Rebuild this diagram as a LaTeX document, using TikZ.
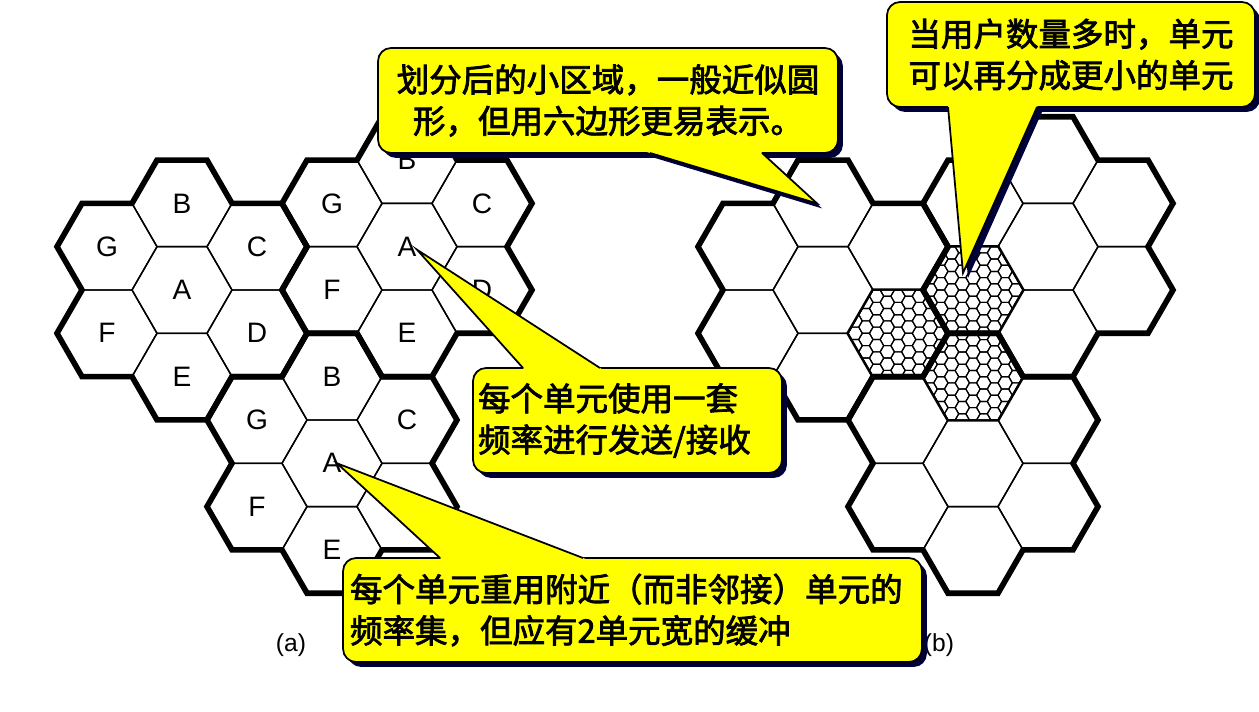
\documentclass[tikz,border=0pt]{standalone}
\usepackage{fontspec}
\setmainfont{Liberation Sans}
\newfontfamily\cjk[FakeBold=2.4]{Noto Sans CJK SC}
\usepackage{tikz}
\usetikzlibrary{shapes.geometric, calc, shadows}

\definecolor{noteyellow}{RGB}{255,255,0}
\definecolor{noteshade}{RGB}{0,0,56}

\pgfdeclarelayer{back}
\pgfdeclarelayer{shade}
\pgfsetlayers{back,shade,main}

\begin{document}
\begin{tikzpicture}[
    x=0.02cm, y=-0.02cm,
    cell/.style={draw, regular polygon, regular polygon sides=6, minimum size=2cm, inner sep=0pt, line width=0.8pt, font=\fontsize{16}{16}\selectfont},
    rim/.style={line width=3.2pt},
    fine/.style={line width=0.65pt},
    note/.style={draw, line width=1pt, fill=noteyellow, rounded corners=0.26cm, inner sep=0pt, outer sep=0pt, minimum height=2.1cm, font=\cjk\fontsize{18.5}{23.5}\selectfont, drop shadow={shadow xshift=2.8pt, shadow yshift=-2.8pt, fill=noteshade, opacity=1}},
    tailfill/.style={fill=noteyellow},
    tailline/.style={line width=1pt, line join=miter},
    tailshade/.style={fill=noteshade},
    caption/.style={font=\fontsize{14}{14}\selectfont}
]
\useasboundingbox (0,0) rectangle (1259,712);

\begin{pgfonlayer}{back}
% (a) three groups of seven cells
\foreach \g/\x/\y in {a1/182/290, a2/407/246.7, a3/332/463.3} {
    \node[cell] (\g A) at (\x,\y) {A};
    \foreach \l/\ang in {B/270, C/330, D/30, E/90, F/150, G/210}
        \node[cell] (\g\l) at ($(\g A)+(\ang:86.6)$) {\l};
}

% (b) same groups, no letters
\foreach \g/\x/\y in {b1/823/290, b2/973/463.3, b3/1048/246.7} {
    \node[cell] (\g A) at (\x,\y) {};
    \foreach \l/\ang in {B/270, C/330, D/30, E/90, F/150, G/210}
        \node[cell] (\g\l) at ($(\g A)+(\ang:86.6)$) {};
}

% split cells
\foreach \h in {b1D, b3F, b2B} {
    \begin{scope}
        \clip (\h.corner 1) \foreach \k in {2,...,6} { -- (\h.corner \k) } -- cycle;
        \begin{scope}[shift={(\h.center)}]
            \foreach \i in {-5,...,5}
                \foreach \j in {-6,...,6}
                    \draw[fine, shift={({10.714*\i},{12.372*(\j+0.5*\i)})}] (0:7.14) -- (60:7.14) -- (120:7.14) -- (180:7.14) -- (240:7.14) -- (300:7.14) -- cycle;
        \end{scope}
    \end{scope}
    \draw[line width=1.1pt] (\h.corner 1) \foreach \k in {2,...,6} { -- (\h.corner \k) } -- cycle;
}

% thick outline of each group
\foreach \g in {a1, a2, a3, b1, b2, b3}
    \draw[rim] (\g A.center) ++(100,0) \foreach \dir in {60,120,180,120,180,240,180,240,300,240,300,0,300,0,60,0,60,120} { -- ++(\dir:50) } -- cycle;
\end{pgfonlayer}

% captions
\node[caption] (capa) at (291,645) {(a)};
\node[caption] (capb) at (939,645) {(b)};

% callouts
\node[note, minimum width=9.2cm, align=center] (notecell) at (608,100.5) {划分后的小区域，一般近似圆\\形，但用六边形更易表示。};
\node[note, minimum width=7.36cm, align=center] (notesplit) at (1071,54.5) {当用户数量多时，单元\\可以再分成更小的单元};
\node[note, text width=5.98cm, inner xsep=0.1cm, align=left] (noteuse) at (627.5,420.5) {每个单元使用一套\\频率进行发送/接收};
\node[note, text width=11.3cm, inner xsep=0.14cm, minimum height=2.08cm, align=left] (notereuse) at (632.5,610) {每个单元重用附近（而非邻接）单元的\\频率集，但应有2单元宽的缓冲};

% pointers
\coordinate (t1a) at ($(notecell.south west)+(272,0)$);
\coordinate (t1b) at ($(notecell.south west)+(384,0)$);
\coordinate (t1c) at ($(b1B.center)+(-6,0)$);
\coordinate (t2a) at ($(notesplit.south west)+(61,0)$);
\coordinate (t2b) at ($(notesplit.south west)+(150,0)$);
\coordinate (t2c) at ($(b3F.center)+(-10,-17)$);
\coordinate (t3a) at ($(noteuse.north west)+(50,0)$);
\coordinate (t3b) at ($(noteuse.north west)+(127,0)$);
\coordinate (t3c) at ($(a2A.center)+(10,3)$);
\coordinate (t4a) at ($(notereuse.north west)+(97,0)$);
\coordinate (t4b) at ($(notereuse.north west)+(240,0)$);
\coordinate (t4c) at ($(a3A.center)+(5,0)$);

\begin{pgfonlayer}{shade}
\foreach \tl in {t1, t2, t3, t4}
    \fill[tailshade] ($(\tl a)+(5,5)$) -- ($(\tl c)+(5,5)$) -- ($(\tl b)+(5,5)$) -- cycle;
\end{pgfonlayer}

\foreach \tl in {t1, t2, t3, t4} {
    \fill[tailfill] ($(\tl a)!-6pt!(\tl c)$) -- (\tl c) -- ($(\tl b)!-6pt!(\tl c)$) -- cycle;
    \draw[tailline] (\tl a) -- (\tl c) -- (\tl b);
}

\end{tikzpicture}
\end{document}
